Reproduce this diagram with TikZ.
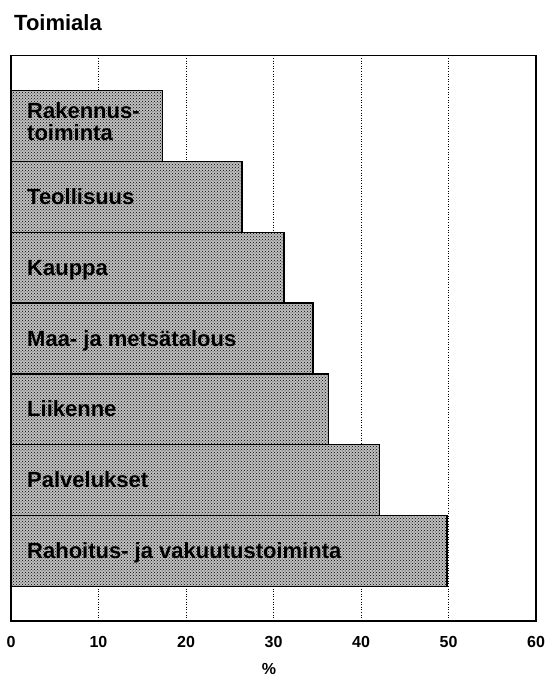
\documentclass[tikz,border=0pt]{standalone}
\usepackage{fontspec}
\setmainfont{Liberation Sans}
\usetikzlibrary{patterns}
\begin{document}
\begin{tikzpicture}[x=1pt,y=-1pt,
  frame/.style={line width=1.6pt, line join=miter},
  gridline/.style={line width=0.9pt, dash pattern=on 1pt off 1.6pt},
  bar/.style={line width=1.5pt, preaction={fill=black!25}, pattern=crosshatch dots, pattern color=black},
  lab/.style={inner sep=0pt, font=\fontsize{22}{22}\selectfont\bfseries},
  ticklab/.style={inner sep=0pt, font=\fontsize{16}{18}\selectfont\bfseries},
  titlelab/.style={inner sep=0pt, anchor=base west, font=\fontsize{22}{24}\selectfont\bfseries}]
\useasboundingbox (0,0) rectangle (545,679);
% title
\node[titlelab] (title) at (14,30.5) {Toimiala};
% grid lines
\foreach \v in {10,20,30,40,50} {
  \draw[gridline] ({11+8.75*\v},55.5) -- ({11+8.75*\v},621);
}
% bars
\foreach \val [count=\i from 0] in {17.3,26.4,31.2,34.5,36.3,42.1,49.8} {
  \draw[bar] (11,{90.7+70.8*\i}) rectangle ({11+8.75*\val},{90.7+70.8*(\i+1)});
}
% frame
\draw[frame] (11,55.5) rectangle (536,621);
% labels
\node[lab, anchor=north west, align=left] (l1) at (27,102) {Rakennus-\\toiminta};
\node[lab, anchor=base west] (l2) at (27,{90.7+70.8*1.5+7.5}) {Teollisuus};
\node[lab, anchor=base west] (l3) at (27,{90.7+70.8*2.5+7.5}) {Kauppa};
\node[lab, anchor=base west] (l4) at (27,{90.7+70.8*3.5+7.5}) {Maa- ja metsätalous};
\node[lab, anchor=base west] (l5) at (27,{90.7+70.8*4.5+7.5}) {Liikenne};
\node[lab, anchor=base west] (l6) at (27,{90.7+70.8*5.5+7.5}) {Palvelukset};
\node[lab, anchor=base west] (l7) at (27,{90.7+70.8*6.5+7.5}) {Rahoitus- ja vakuutustoiminta};
% tick labels
\foreach \v in {0,10,20,30,40,50,60} {
  \node[ticklab] (t\v) at ({11+8.75*\v},641.7) {\v};
}
\node[ticklab] (pct) at (269,669) {\%};
\end{tikzpicture}
\end{document}
